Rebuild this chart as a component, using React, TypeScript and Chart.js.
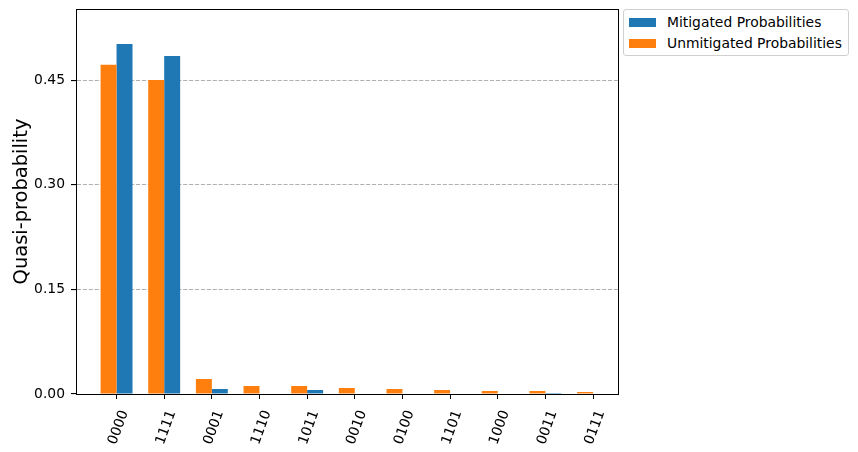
import React, { useEffect, useRef } from 'react';
import { Chart, registerables } from 'chart.js';
import type { Plugin } from 'chart.js';

Chart.register(...registerables);

const states = ['0000', '1111', '0001', '1110', '1011', '0010', '0100', '1101', '1000', '0011', '0111'];
const unmitigated = [0.4723, 0.4503, 0.0215, 0.0115, 0.0115, 0.0086, 0.0072, 0.0057, 0.0043, 0.0043, 0.0029];
const mitigated = [0.502, 0.4847, 0.0072, 0, 0.0057, 0, 0, 0, 0, 0.0014, 0];
const yTicks = [0, 0.15, 0.3, 0.45];

const BLUE = '#1f77b4';
const ORANGE = '#ff7f0e';
const FONT = '"DejaVu Sans", sans-serif';
const SMALL = 13.89;

const frame: Plugin = {
  id: 'frame',
  afterDatasetsDraw(chart) {
    const { ctx, chartArea: a } = chart;
    ctx.save();
    ctx.strokeStyle = '#000';
    ctx.lineWidth = 1;
    ctx.strokeRect(Math.round(a.left) + 0.5, Math.round(a.top) + 0.5, Math.round(a.right - a.left), Math.round(a.bottom - a.top));
    ctx.restore();
  },
};

const LegendBox = () => (
  <div
    style={{
      position: 'absolute',
      left: 623,
      top: 9,
      width: 224,
      height: 45,
      border: '1px solid #d0d0d0',
      borderRadius: 3,
      background: '#fff',
      fontFamily: FONT,
      fontSize: SMALL,
      color: '#000',
    }}
  >
    {[
      { label: 'Mitigated Probabilities', color: BLUE },
      { label: 'Unmitigated Probabilities', color: ORANGE },
    ].map((item, i) => (
      <div key={item.label} style={{ position: 'absolute', left: 5, top: 2 + i * 21, height: 20, display: 'flex', alignItems: 'center', whiteSpace: 'nowrap' }}>
        <span style={{ display: 'inline-block', width: 27, height: 9, background: item.color, marginRight: 11 }} />
        {item.label}
      </div>
    ))}
  </div>
);

export default function App() {
  const canvasRef = useRef<HTMLCanvasElement>(null);

  useEffect(() => {
    if (!canvasRef.current) return () => { /* nothing */ };
    const chart = new Chart(canvasRef.current, {
      type: 'bar',
      data: {
        datasets: [
          {
            label: 'Unmitigated Probabilities',
            data: unmitigated.map((y, x) => ({ x, y })),
            backgroundColor: ORANGE,
          },
          {
            label: 'Mitigated Probabilities',
            data: mitigated.map((y, x) => ({ x, y })),
            backgroundColor: BLUE,
          },
        ],
      },
      options: {
        animation: false,
        responsive: false,
        maintainAspectRatio: false,
        devicePixelRatio: 1,
        layout: { padding: { left: 0, right: 240, top: 9, bottom: 0 } },
        datasets: { bar: { categoryPercentage: 0.67, barPercentage: 1 } },
        plugins: { legend: { display: false }, tooltip: { enabled: false } },
        scales: {
          x: {
            type: 'linear',
            offset: false,
            min: -0.851,
            max: 10.524,
            afterBuildTicks: (scale) => { scale.ticks = states.map((_, i) => ({ value: i })); },
            afterFit: (scale) => { scale.height = 58; scale.paddingLeft = 0; scale.paddingRight = 0; },
            grid: { offset: false, drawOnChartArea: false, drawTicks: true, tickLength: 5, tickColor: '#000' },
            border: { display: true, color: '#000', width: 1 },
            ticks: {
              autoSkip: false,
              minRotation: 70,
              maxRotation: 70,
              padding: 9,
              labelOffset: 8,
              color: '#000',
              font: { family: FONT, size: SMALL },
              callback: (v) => states[Number(v)] ?? '',
            },
          },
          y: {
            type: 'linear',
            min: 0,
            max: 0.5521,
            afterBuildTicks: (scale) => { scale.ticks = yTicks.map((value) => ({ value })); },
            afterFit: (scale) => { scale.width = 76; scale.paddingTop = 0; scale.paddingBottom = 0; },
            grid: {
              color: (ctx) => (ctx.tick && ctx.tick.value === 0 ? 'rgba(0,0,0,0)' : '#b0b0b0'),
              lineWidth: 1.1,
              tickLength: 5,
              tickColor: '#000',
            },
            border: { display: true, color: '#000', width: 1, dash: [4.1, 1.8] },
            ticks: {
              padding: 6,
              color: '#000',
              font: { family: FONT, size: SMALL },
              callback: (v) => Number(v).toFixed(2),
            },
            title: {
              display: true,
              text: 'Quasi-probability',
              color: '#000',
              font: { family: FONT, size: 19.44 },
              padding: { top: 10, bottom: 0 },
            },
          },
        },
      },
      plugins: [frame],
    });
    return () => {
      chart.destroy();
    };
  }, []);

  return (
    <div style={{ position: 'fixed', left: 0, top: 0, width: 858, height: 452, background: '#fff' }}>
      <canvas ref={canvasRef} width={858} height={452} style={{ width: 858, height: 452 }} />
      <LegendBox />
    </div>
  );
}
